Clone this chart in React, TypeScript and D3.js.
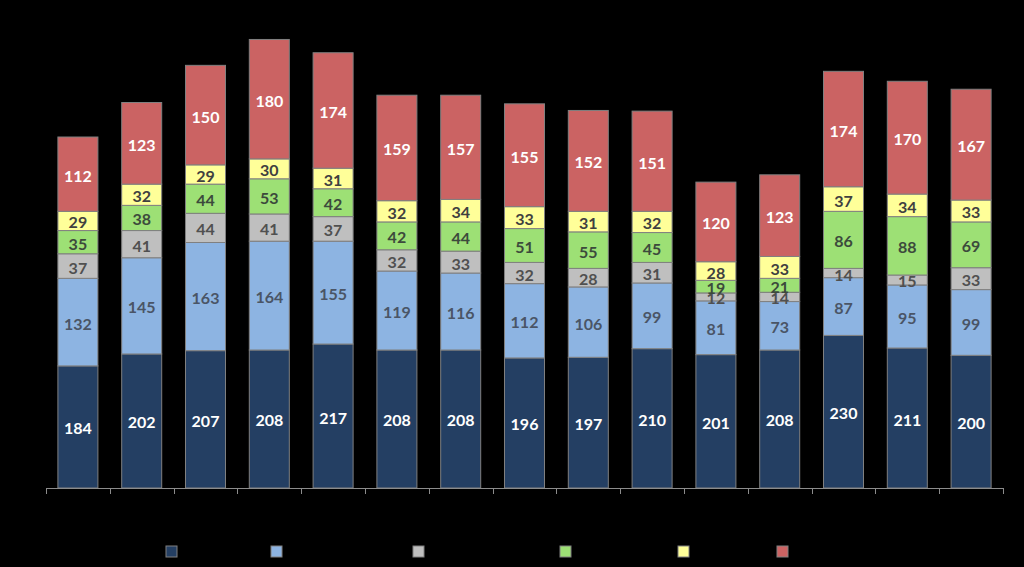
import React from "react";
import * as d3 from "d3";

const categories = ["1","2","3","4","5","6","7","8","9","10","11","12","13","14","15"];
const seriesNames = ["S1","S2","S3","S4","S5","S6"];
const s1 = [184,202,207,208,217,208,208,196,197,210,201,208,230,211,200];
const s2 = [132,145,163,164,155,119,116,112,106,99,81,73,87,95,99];
const s3 = [37,41,44,41,37,32,33,32,28,31,12,14,14,15,33];
const s4 = [35,38,44,53,42,42,44,51,55,45,19,21,86,88,69];
const s5 = [29,32,29,30,31,32,34,33,31,32,28,33,37,34,33];
const s6 = [112,123,150,180,174,159,157,155,152,151,120,123,174,170,167];
const seriesData = [s1, s2, s3, s4, s5, s6];
const colors = ["#243F63","#8DB4E2","#BFBFBF","#9DE075","#FFFF99","#CB6363"];
const labelColors = ["#FFFFFF","#4A5566","#505050","#3C4A3C","#404040","#FFFFFF"];
const legendX = [166, 271, 413, 560, 678, 777];

export default function App() {
  const W = 1024, H = 567;
  const x0 = 46, x1 = 1003, baseY = 488;
  const x = d3.scaleBand<string>().domain(categories).range([x0, x1]).paddingInner(0.373).paddingOuter(0.1865);
  const y = d3.scaleLinear().domain([0, 700]).range([baseY, baseY - 700 * 0.6635]);
  const table = categories.map((c, i) => {
    const o: any = { cat: c };
    seriesNames.forEach((s, k) => (o[s] = seriesData[k][i]));
    return o;
  });
  const stacked = d3.stack<any>().keys(seriesNames)(table);
  const step = x.step();
  const ticks = d3.range(categories.length + 1).map((i) => x0 + i * step);
  return (
    <svg width={W} height={H} style={{ position: "fixed", left: 0, top: 0, background: "#000" }}>
      <rect x={0} y={0} width={W} height={H} fill="#000" />
      {stacked.map((layer, k) => (
        <g key={k}>
          {layer.map((d, i) => {
            const bx = x(categories[i])!;
            const top = y(d[1]);
            const bot = y(d[0]);
            return (
              <g key={i}>
                <rect x={bx} y={top} width={x.bandwidth()} height={bot - top} fill={colors[k]} stroke="#808080" strokeWidth={1} />
                <text x={bx + x.bandwidth() / 2} y={(top + bot) / 2 + 1} textAnchor="middle" dominantBaseline="central"
                  fontFamily="Lato, 'Open Sans', sans-serif" fontWeight="bold" fontSize={16} fill={labelColors[k]}>
                  {seriesData[k][i]}
                </text>
              </g>
            );
          })}
        </g>
      ))}
      <line x1={x0} x2={x1} y1={baseY + 0.5} y2={baseY + 0.5} stroke="#8C8C8C" strokeWidth={1} />
      {ticks.map((t, i) => (
        <line key={i} x1={Math.round(t) + 0.5} x2={Math.round(t) + 0.5} y1={baseY} y2={baseY + 6} stroke="#8C8C8C" strokeWidth={1} />
      ))}
      {seriesNames.map((s, k) => (
        <rect key={s} x={legendX[k]} y={546} width={11} height={11} fill={colors[k]} stroke="#808080" strokeWidth={1} />
      ))}
    </svg>
  );
}
